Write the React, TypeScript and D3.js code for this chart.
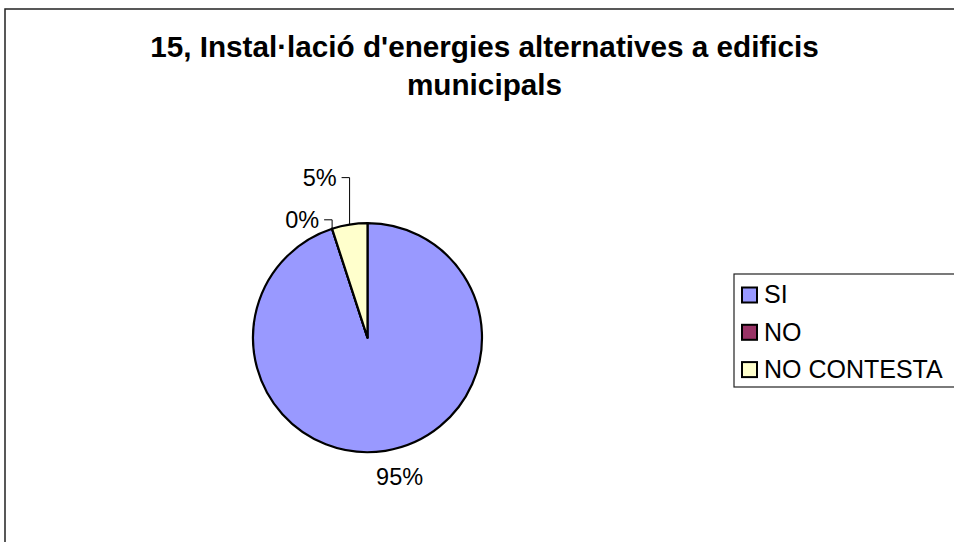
import React from "react";
import * as d3 from "d3";

const categories = ["SI", "NO", "NO CONTESTA"];
const values = [95, 0, 5];
const colors = ["#9999FF", "#993366", "#FFFFCC"];
const titleLines = ["15, Instal·lació d'energies alternatives a edificis", "municipals"];

const W = 954;
const H = 542;
const cx = 367.5;
const cy = 337.7;
const R = 114.5;
const FONT = "'Liberation Sans', Arial, sans-serif";

export default function App() {
  const total = d3.sum(values);
  const pie = d3.pie<number>().sort(null).value((d) => d)(values);
  const arc = d3.arc<d3.PieArcDatum<number>>().innerRadius(0).outerRadius(R);
  const fmt = (v: number) => `${Math.round((v / total) * 100)}%`;

  // leader elbow rise for small slices (layout)
  const rise = [0, 9, 47];

  return (
    <svg width={W} height={H} style={{ position: "absolute", left: 0, top: 0, background: "#fff" }} fontFamily={FONT}>
      <rect x={5} y={9} width={1000} height={600} fill="#fff" stroke="#222" strokeWidth={1.5} />
      <g textAnchor="middle" fontWeight="bold" fontSize={29.7} fill="#000">
        <text x={484.5} y={56.5}>{titleLines[0]}</text>
        <text x={484.5} y={95}>{titleLines[1]}</text>
      </g>
      <g transform={`translate(${cx},${cy})`}>
        {pie.map((p, i) => (
          <path key={i} d={arc(p) || ""} fill={colors[i]} stroke="#000" strokeWidth={2.2} strokeLinejoin="round" />
        ))}
        {pie.map((p, i) => {
          const mid = (p.startAngle + p.endAngle) / 2;
          const sx = Math.sin(mid);
          const sy = -Math.cos(mid);
          if (i === 0) {
            const rr = R + 27;
            return (
              <text key={i} x={sx * rr + 10} y={sy * rr - 1} textAnchor="middle" fontSize={23.5} dy="0.35em">
                {fmt(values[i])}
              </text>
            );
          }
          const ex = sx * R;
          const ey = sy * R;
          const ly = ey - rise[i];
          return (
            <g key={i}>
              <path d={`M${ex},${ey}V${ly}H${ex - 8}`} fill="none" stroke="#000" strokeWidth={1} />
              <text x={ex - 13} y={ly} textAnchor="end" fontSize={23.5} dy="0.35em">
                {fmt(values[i])}
              </text>
            </g>
          );
        })}
      </g>
      <g>
        <rect x={734} y={274} width={260} height={113} fill="#fff" stroke="#222" strokeWidth={1.2} />
        {categories.map((c, i) => (
          <g key={c} transform={`translate(742,${294.5 + i * 37.3})`}>
            <rect x={0} y={-7} width={15} height={15} fill={colors[i]} stroke="#000" strokeWidth={2} />
            <text x={22} y={0} fontSize={25} dy="0.35em">{c}</text>
          </g>
        ))}
      </g>
    </svg>
  );
}
